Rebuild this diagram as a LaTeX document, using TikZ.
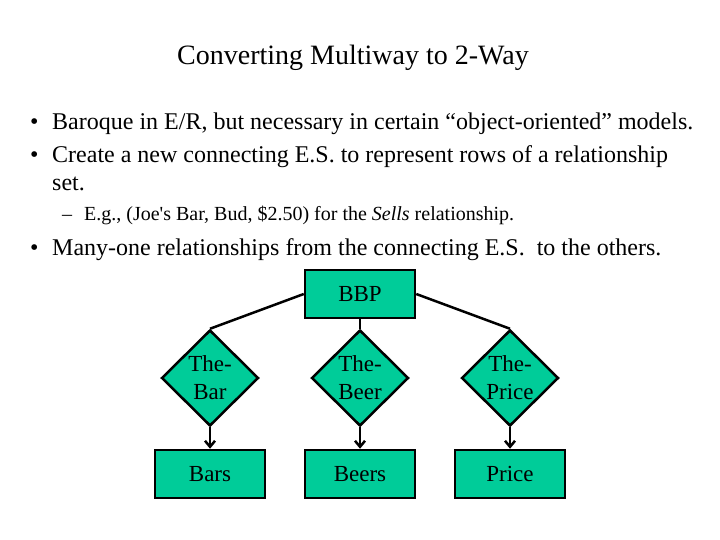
\documentclass[tikz,border=0pt]{standalone}
\usepackage{fontspec}
\setmainfont{Liberation Serif}
\usetikzlibrary{shapes.geometric,arrows.meta}
\definecolor{tealg}{RGB}{0,204,153}
\begin{document}
\begin{tikzpicture}[x=1pt,y=-1pt,
  ent/.style={draw,line width=2.5pt,fill=tealg,minimum width=110pt,minimum height=48pt,inner sep=0pt,font=\fontsize{23}{28}\selectfont},
  rel/.style={draw,line width=2.5pt,fill=tealg,diamond,minimum width=97pt,minimum height=96pt,inner sep=0pt,align=center,font=\fontsize{23}{28}\selectfont},
  conn/.style={line width=2.5pt},
  arr/.style={line width=2.5pt,-{Straight Barb[length=6pt,width=10pt]}},
  txt/.style={anchor=base west,inner sep=0pt,font=\fontsize{24}{28}\selectfont}]
\useasboundingbox (0,0) rectangle (720,540);
\node[anchor=base,inner sep=0pt,font=\fontsize{28}{32}\selectfont] (title) at (353,65) {Converting Multiway to 2-Way};
\node[txt] (b1) at (30,130) {•};
\node[txt] (t1) at (52,130) {Baroque in E/R, but necessary in certain “object-oriented” models.};
\node[txt] (b2) at (30,163) {•};
\node[txt] (t2) at (52,163) {Create a new connecting E.S. to represent rows of a relationship};
\node[txt] (t2b) at (52,191) {set.};
\node[txt,font=\fontsize{20}{22}\selectfont] (d3) at (62,221) {–};
\node[txt,font=\fontsize{20}{22}\selectfont] (t3) at (84,221) {E.g., (Joe\textquotesingle s Bar, Bud, \$2.50) for the \textit{Sells} relationship.};
\node[txt] (b4) at (30,255) {•};
\node[txt] (t4) at (52,255) {Many-one relationships from the connecting E.S.\ \ to the others.};

\node[ent] (bbp) at (360,294) {BBP};
\node[rel] (r1) at (210,378) {The-\\Bar};
\node[rel] (r2) at (360,378) {The-\\Beer};
\node[rel] (r3) at (510,378) {The-\\Price};
\node[ent] (e1) at (210,474) {Bars};
\node[ent] (e2) at (360,474) {Beers};
\node[ent] (e3) at (510,474) {Price};
\draw[conn] (bbp.west) -- (r1.north);
\draw[conn] (bbp.south) -- (r2.north);
\draw[conn] (bbp.east) -- (r3.north);
\draw[arr] (r1.south) -- (e1.north);
\draw[arr] (r2.south) -- (e2.north);
\draw[arr] (r3.south) -- (e3.north);
\end{tikzpicture}
\end{document}
